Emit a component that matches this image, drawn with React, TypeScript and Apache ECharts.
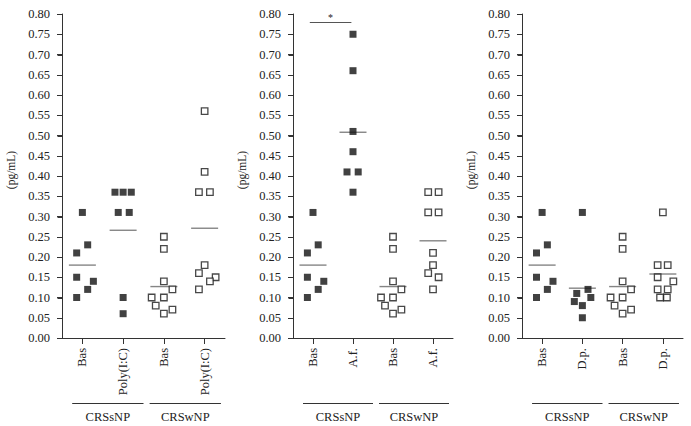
import React, { useEffect, useRef } from "react";
import * as echarts from "echarts";

const FONT = "'Liberation Serif', 'Times New Roman', serif";

// y axis ticks
const yMin = 0;
const yMax = 0.8;
const yStep = 0.05;

const panelCategories = [
  ["Bas", "Poly(I:C)", "Bas", "Poly(I:C)"],
  ["Bas", "A.f.", "Bas", "A.f."],
  ["Bas", "D.p.", "Bas", "D.p."],
];
const groupNames = ["CRSsNP", "CRSwNP"];

// Baseline (shared by all panels)
const basSValues = [0.31, 0.23, 0.21, 0.15, 0.14, 0.12, 0.1];
const basSJitter = [0, 0.13, -0.14, -0.14, 0.27, 0.13, -0.14];
const basWValues = [0.25, 0.22, 0.14, 0.12, 0.1, 0.1, 0.08, 0.06, 0.07];
const basWJitter = [0, 0, 0, 0.21, -0.3, 0, -0.2, 0, 0.21];

// Poly(I:C)
const polySValues = [0.36, 0.36, 0.36, 0.31, 0.31, 0.1, 0.06];
const polySJitter = [-0.2, 0, 0.2, -0.12, 0.15, 0, 0];
const polyWValues = [0.56, 0.41, 0.36, 0.36, 0.18, 0.16, 0.15, 0.14, 0.12];
const polyWJitter = [0, 0, -0.14, 0.13, 0, -0.14, 0.27, 0.13, -0.14];

// A.f.
const afSValues = [0.75, 0.66, 0.51, 0.46, 0.41, 0.41, 0.36];
const afSJitter = [0, 0, 0, 0, -0.15, 0.13, 0];
const afWValues = [0.36, 0.36, 0.31, 0.31, 0.21, 0.18, 0.16, 0.15, 0.12];
const afWJitter = [-0.12, 0.14, -0.12, 0.14, 0, 0, -0.12, 0.14, 0];

// D.p.
const dpSValues = [0.31, 0.12, 0.11, 0.1, 0.09, 0.08, 0.05];
const dpSJitter = [0, 0.14, -0.14, 0.21, -0.2, 0, 0];
const dpWValues = [0.31, 0.18, 0.18, 0.15, 0.14, 0.12, 0.12, 0.1, 0.1];
const dpWJitter = [0, -0.13, 0.12, -0.13, 0.26, -0.13, 0.12, -0.07, 0.1];

// group means (horizontal bars)
const polyMeans = [0.18, 0.266, 0.127, 0.271];
const afMeans = [0.18, 0.508, 0.127, 0.24];
const dpMeans = [0.18, 0.123, 0.127, 0.158];

// significance bracket in panel 2 (between groups 1 and 2)
const sigLevel = 0.78;
const sigLabel = "*";

const panels = [
  { filled: [[basSValues, basSJitter], [polySValues, polySJitter]], hollow: [[basWValues, basWJitter], [polyWValues, polyWJitter]], means: polyMeans },
  { filled: [[basSValues, basSJitter], [afSValues, afSJitter]], hollow: [[basWValues, basWJitter], [afWValues, afWJitter]], means: afMeans },
  { filled: [[basSValues, basSJitter], [dpSValues, dpSJitter]], hollow: [[basWValues, basWJitter], [dpWValues, dpWJitter]], means: dpMeans },
];

const gridLayout = [
  { left: 62, width: 163 },
  { left: 293, width: 160 },
  { left: 522, width: 161 },
];

const AXIS_COLOR = "#333";
const TEXT_COLOR = "#222";

// category slot i is centred at i + 0.5 on a 0..4 value axis
const slot = (i: number) => i + 0.5;

export default function App() {
  const ref = useRef<HTMLDivElement>(null);
  useEffect(() => {
    if (!ref.current) return;
    const chart = echarts.init(ref.current, undefined, { renderer: "svg" });

    const grids = gridLayout.map((g) => ({ left: g.left, width: g.width, top: 14, height: 324 }));
    const xAxes = panelCategories.map((cats, p) => {
      const centers = cats.map((_, i) => slot(i));
      return {
        gridIndex: p,
        type: "value",
        min: 0,
        max: cats.length,
        axisLine: { show: true, onZero: false, lineStyle: { color: AXIS_COLOR, width: 1 } },
        axisTick: { show: true, customValues: centers, length: 6, lineStyle: { color: AXIS_COLOR } },
        axisLabel: {
          show: true,
          customValues: centers,
          formatter: (v: number) => cats[Math.floor(v)] ?? "",
          rotate: 90,
          fontFamily: FONT,
          fontSize: 12.5,
          color: TEXT_COLOR,
          margin: 10,
        },
        splitLine: { show: false },
      };
    });
    const yTickValues: number[] = [];
    for (let k = 0; k <= Math.round((yMax - yMin) / yStep); k++) yTickValues.push(+(yMin + k * yStep).toFixed(2));
    const yAxes = panelCategories.map((_, p) => ({
      gridIndex: p,
      type: "value",
      min: yMin,
      max: yMax,
      interval: yStep,
      axisLine: { show: true, onZero: false, lineStyle: { color: AXIS_COLOR, width: 1 } },
      axisTick: { show: true, length: 5, lineStyle: { color: AXIS_COLOR } },
      axisLabel: { formatter: (v: number) => v.toFixed(2), fontFamily: FONT, fontSize: 12.5, color: TEXT_COLOR, margin: 12 },
      splitLine: { show: false },
      name: "(pg/mL)",
      nameLocation: "middle",
      nameRotate: 90,
      nameGap: 45,
      nameTextStyle: { fontFamily: FONT, fontSize: 11.5, color: TEXT_COLOR, padding: [0, 0, 0, 12] },
    }));

    const series: any[] = [];
    panels.forEach((pn, p) => {
      const filledData: number[][] = [];
      pn.filled.forEach(([vals, jit], g) => vals.forEach((v, i) => filledData.push([slot(g) + jit[i], v])));
      const hollowData: number[][] = [];
      pn.hollow.forEach(([vals, jit], g) => vals.forEach((v, i) => hollowData.push([slot(g + 2) + jit[i], v])));
      series.push({
        type: "scatter",
        xAxisIndex: p,
        yAxisIndex: p,
        symbol: "rect",
        symbolSize: [27, 1.4],
        itemStyle: { color: "#666" },
        z: 1,
        data: pn.means.map((m, i) => [slot(i), m]),
        markLine: {
          symbol: "none",
          silent: true,
          lineStyle: { color: "#555", width: 1, type: "solid" },
          label: { show: true, position: "middle", formatter: sigLabel, fontSize: 10, color: TEXT_COLOR, fontFamily: FONT, distance: 0 },
          data: p === 1 ? [[{ coord: [slot(0) - 0.08, sigLevel] }, { coord: [slot(1) - 0.04, sigLevel] }]] : [],
        },
      });
      series.push({
        type: "scatter",
        xAxisIndex: p,
        yAxisIndex: p,
        symbol: "rect",
        symbolSize: 7,
        itemStyle: { color: "#111" },
        z: 3,
        data: filledData,
      });
      series.push({
        type: "scatter",
        xAxisIndex: p,
        yAxisIndex: p,
        symbol: "rect",
        symbolSize: 6.5,
        itemStyle: { color: "#fff", borderColor: "#1a1a1a", borderWidth: 1.3 },
        z: 3,
        data: hollowData,
      });
    });

    chart.setOption({
      animation: false,
      backgroundColor: "#fff",
      grid: grids,
      xAxis: xAxes,
      yAxis: yAxes,
      series,
    });

    const graphics: any[] = [];
    panels.forEach((_, p) => {
      const xL = Math.round(chart.convertToPixel({ xAxisIndex: p }, 0) as number) + 0.5;
      const xR = chart.convertToPixel({ xAxisIndex: p }, panelCategories[p].length) as number;
      const yB = Math.round(chart.convertToPixel({ yAxisIndex: p }, yMin) as number) + 0.5;
      const yT = chart.convertToPixel({ yAxisIndex: p }, yMax) as number;
      graphics.push({ type: "line", z: 50, shape: { x1: xL, y1: yT, x2: xL, y2: yB }, style: { stroke: AXIS_COLOR, lineWidth: 1 } });
      graphics.push({ type: "line", z: 50, shape: { x1: xL, y1: yB, x2: xR, y2: yB }, style: { stroke: AXIS_COLOR, lineWidth: 1 } });
      yTickValues.forEach((v) => {
        const y = Math.round(chart.convertToPixel({ yAxisIndex: p }, v) as number) + 0.5;
        graphics.push({ type: "line", z: 50, shape: { x1: xL - 5, y1: y, x2: xL, y2: y }, style: { stroke: AXIS_COLOR, lineWidth: 1 } });
      });
    });

    // group labels under the x axes
    const groupSpans = [
      [slot(0) - 0.25, slot(1) + 0.5],
      [slot(2) - 0.35, slot(3) + 0.4],
    ];
    panels.forEach((_, p) => {
      groupSpans.forEach((span, g) => {
        const x0 = chart.convertToPixel({ xAxisIndex: p }, span[0]) as number;
        const x1 = chart.convertToPixel({ xAxisIndex: p }, span[1]) as number;
        graphics.push({
          type: "line",
          shape: { x1: x0, y1: 403.5, x2: x1, y2: 403.5 },
          style: { stroke: AXIS_COLOR, lineWidth: 1 },
        });
        graphics.push({
          type: "text",
          x: (x0 + x1) / 2,
          y: 410,
          style: { text: groupNames[g], fontFamily: FONT, fontSize: 12.5, fill: TEXT_COLOR, textAlign: "center", textVerticalAlign: "top" },
        });
      });
    });
    chart.setOption({ graphic: graphics });

    return () => chart.dispose();
  }, []);
  return <div ref={ref} style={{ position: "fixed", left: 0, top: 0, width: 691, height: 426, background: "#fff" }} />;
}
